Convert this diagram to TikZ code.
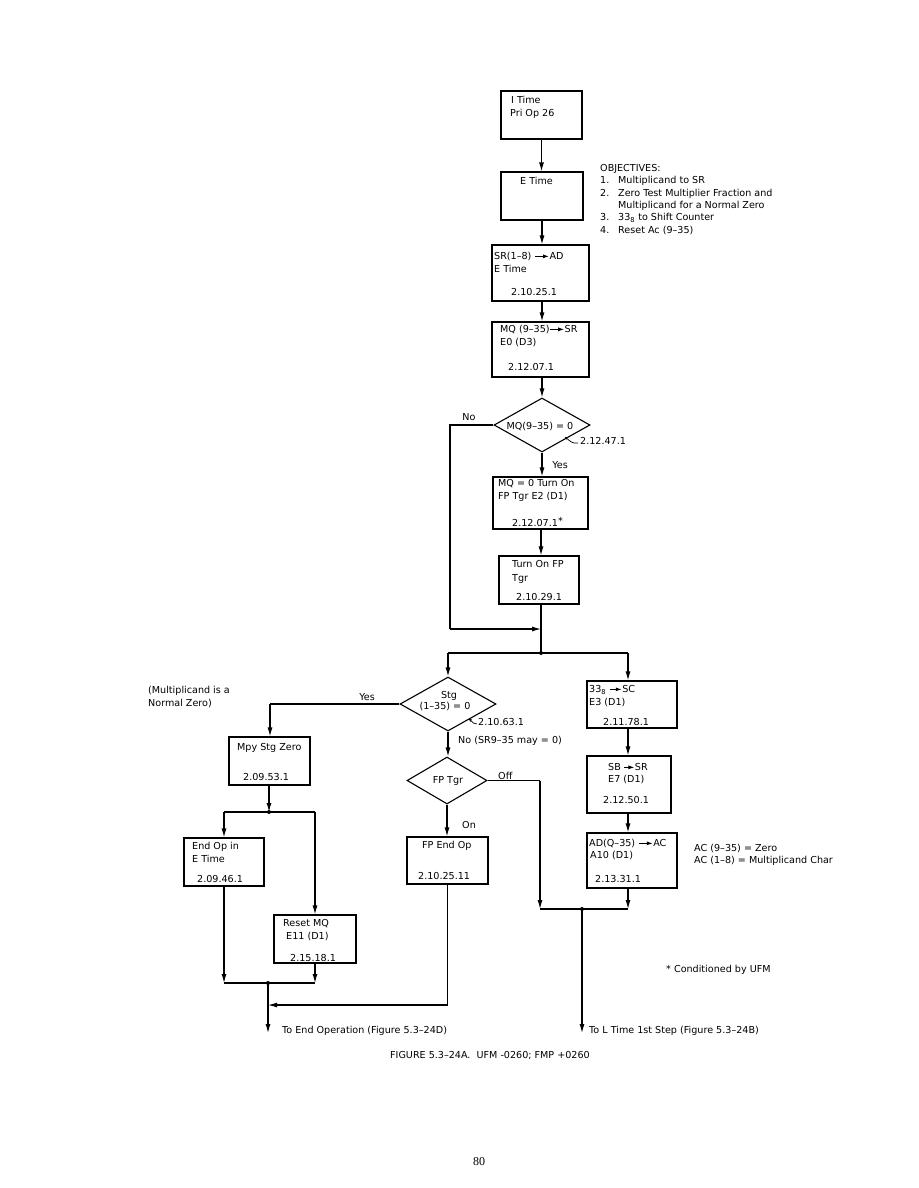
\documentclass[tikz,border=0pt]{standalone}
\usepackage{fontspec}
\setmainfont{DejaVu Sans}
\newfontfamily\pagefont{Liberation Serif}
\usetikzlibrary{shapes.geometric,arrows.meta}
\newcommand\rarr[1][14]{\tikz[x=1pt,y=1pt,baseline=-0.6ex]\draw[line width=1pt,-{Latex[length=6pt,width=4pt]}] (0,0)--(#1,0);}
\newcommand\tx[4]{\node[txt,anchor=base west] (#1) at (#2,#3+3.5) {#4};}
\newcommand\tc[4]{\node[txt,anchor=base] (#1) at (#2,#3+3.5) {#4};}
\begin{document}
\begin{tikzpicture}[x=1pt,y=-1pt,
 box/.style={draw,line width=1.1pt,rectangle,inner sep=0pt},
 dia/.style={draw,line width=1.1pt,diamond,inner sep=0pt},
 txt/.style={inner sep=0pt,font=\fontsize{9.6}{12}\selectfont},
 ln/.style={line width=1.1pt},
 arr/.style={line width=1.1pt,-{Latex[length=9pt,width=5pt]}},
 curl/.style={line width=0.7pt,-{Stealth[length=3pt,width=3pt]}},
 dot/.style={circle,fill,inner sep=0pt,minimum size=4pt}]
\useasboundingbox[fill=white] (0,0) rectangle (918,1188);
% boxes
\node[box,minimum width=81pt,minimum height=48pt] (b1) at (541.5,115) {};
\node[box,minimum width=82pt,minimum height=48pt] (b2) at (542,196) {};
\node[box,minimum width=97pt,minimum height=56pt] (b3) at (540.5,273) {};
\node[box,minimum width=97pt,minimum height=55pt] (b4) at (540.5,349.5) {};
\node[dia,minimum width=96pt,minimum height=54pt] (d1) at (542,425) {};
\node[box,minimum width=95pt,minimum height=52pt] (b5) at (540.5,503) {};
\node[box,minimum width=80pt,minimum height=48pt] (b6) at (539,580) {};
\node[dia,minimum width=96pt,minimum height=54pt] (d2) at (448,704) {};
\node[box,minimum width=81pt,minimum height=48pt] (mpy) at (269.5,761) {};
\node[dia,minimum width=80pt,minimum height=47pt] (d3) at (447,780.5) {};
\node[box,minimum width=81pt,minimum height=47pt] (fpe) at (447.5,860.5) {};
\node[box,minimum width=80pt,minimum height=48pt] (eop) at (224,862) {};
\node[box,minimum width=82pt,minimum height=48pt] (rmq) at (315,939) {};
\node[box,minimum width=90pt,minimum height=47pt] (b33) at (632,704.5) {};
\node[box,minimum width=84pt,minimum height=57pt] (bsb) at (629,784.5) {};
\node[box,minimum width=90pt,minimum height=55pt] (bad) at (632,860.5) {};
% coordinates
\coordinate (m1) at (541,629);
\coordinate (jA) at (541,653);
\coordinate (cL) at (448,653);
\coordinate (cR) at (628,653);
\coordinate (nw) at (450,425);
\coordinate (nb) at (450,629);
\coordinate (yl) at (270,704);
\coordinate (off) at (540,780.5);
\coordinate (jL) at (540,909);
\coordinate (jRR) at (628,909);
\coordinate (jR) at (582,909);
\coordinate (eR) at (582,1033);
\coordinate (jM) at (269,812);
\coordinate (mL) at (224,812);
\coordinate (mR) at (315,812);
\coordinate (jBL) at (224,983);
\coordinate (jBR) at (315,983);
\coordinate (jB) at (268,983);
\coordinate (eL) at (268,1033);
\coordinate (fq) at (447.5,1005);
\coordinate (fL) at (268,1005);
% connectors
\draw[arr] (b1.south) -- (b1.south |- b2.north);
\draw[arr] (b2.south) -- (b2.south |- b3.north);
\draw[arr] (b2.south |- b3.south) -- (b2.south |- b4.north);
\draw[arr] (d1.north |- b4.south) -- (d1.north);
\draw[arr] (d1.south) -- (d1.south |- b5.north);
\draw[arr] (m1 |- b5.south) -- (m1 |- b6.north);
\draw[ln] (m1 |- b6.south) -- (jA);
\draw[ln] (d1.west) -- (nw) -- (nb);
\draw[arr] (nb) -- (m1);
\draw[ln] (cL) -- (cR);
\draw[arr] (cL) -- (d2.north);
\draw[arr] (cR) -- (cR |- b33.north);
\draw[arr] (cR |- b33.south) -- (cR |- bsb.north);
\draw[arr] (cR |- bsb.south) -- (cR |- bad.north);
\draw[arr] (cR |- bad.south) -- (jRR);
\draw[ln] (d3.east) -- (off);
\draw[arr] (off) -- (jL);
\draw[ln] (jL) -- (jRR);
\draw[arr] (jR) -- (eR);
\draw[ln] (d2.west) -- (yl);
\draw[arr] (yl) -- (yl |- mpy.north);
\draw[arr] (d2.south) -- (d2.south |- d3.north);
\draw[arr] (d3.south) -- (d3.south |- fpe.north);
\draw[arr] (jM |- mpy.south) -- (jM);
\draw[ln] (mL) -- (mR);
\draw[arr] (mL) -- (mL |- eop.north);
\draw[arr] (mR) -- (mR |- rmq.north);
\draw[arr] (jBL |- eop.south) -- (jBL);
\draw[arr] (jBR |- rmq.south) -- (jBR);
\draw[ln] (jBL) -- (jBR);
\draw[arr] (jB) -- (eL);
\draw[ln] (fpe.south) -- (fq);
\draw[arr] (fq) -- (fL);
\node[dot] (dA) at (jA) {};
\node[dot] (dR) at (jR) {};
\node[dot] (dM) at (jM) {};
\node[dot] (dB) at (jB) {};
% texts
\tx{t1a}{511}{100}{I Time}
\tx{t1b}{510}{113}{Pri Op 26}
\tx{t2}{520}{181}{E Time}
\tx{t3a}{494}{256}{SR(1–8) \rarr[14]AD}
\tx{t3b}{494}{269}{E Time}
\tx{t3c}{511}{292}{2.10.25.1}
\tx{t4a}{500}{329}{MQ (9–35)\rarr[14]SR}
\tx{t4b}{500}{342}{E0 (D3)}
\tx{t4c}{508}{367}{2.12.07.1}
\tx{o0}{600}{168}{OBJECTIVES:}
\tx{o1n}{600}{180}{1.}
\tx{o1}{618}{180}{Multiplicand to SR}
\tx{o2n}{600}{193}{2.}
\tx{o2}{618}{193}{Zero Test Multiplier Fraction and}
\tx{o2b}{618}{205}{Multiplicand for a Normal Zero}
\tx{o3n}{600}{217}{3.}
\tx{o3}{618}{217}{33\textsubscript{8} to Shift Counter}
\tx{o4n}{600}{230}{4.}
\tx{o4}{618}{230}{Reset Ac (9–35)}
\tx{t5a}{498}{483}{MQ = 0 Turn On}
\tx{t5b}{498}{496}{FP Tgr E2 (D1)}
\tx{t5c}{512}{523}{2.12.07.1\raisebox{2pt}{*}}
\tx{t6a}{512}{564}{Turn On FP}
\tx{t6b}{512}{578}{Tgr}
\tx{t6c}{516}{597}{2.10.29.1}
\tc{d1t}{540}{426}{MQ(9–35) = 0}
\tx{d1n}{580}{441}{2.12.47.1}
\draw[curl] ([shift={(-2,2)}]d1n.west) .. controls ([shift={(-8,3)}]d1n.west) and ([shift={(-10,0)}]d1n.west) .. ([shift={(-15,-4)}]d1n.west);
\tc{no1}{469}{417}{No}
\tc{yes1}{560}{465}{Yes}
\tc{d2a}{449}{695}{Stg}
\tc{d2b}{445}{706}{(1–35) = 0}
\tx{d2n}{478}{722}{2.10.63.1}
\draw[curl] ([shift={(-1,2)}]d2n.west) .. controls ([shift={(-4,3)}]d2n.west) and ([shift={(-5,0)}]d2n.west) .. ([shift={(-9,-3)}]d2n.west);
\tx{d2no}{458}{740}{No (SR9–35 may = 0)}
\tc{yes2}{367}{697}{Yes}
\tx{mz1}{148}{690}{(Multiplicand is a}
\tx{mz2}{148}{703}{Normal Zero)}
\tx{mp1}{237}{747}{Mpy Stg Zero}
\tx{mp2}{243}{777}{2.09.53.1}
\tc{d3t}{448}{780}{FP Tgr}
\tx{offt}{498}{776}{Off}
\tx{ont}{462}{825}{On}
\tx{r1a}{589}{689}{33\textsubscript{8} \rarr[12]SC}
\tx{r1b}{589}{702}{E3 (D1)}
\tx{r1c}{603}{722}{2.11.78.1}
\tx{r2a}{608}{767}{SB \rarr[10]SR}
\tx{r2b}{608}{779}{E7 (D1)}
\tx{r2c}{603}{800}{2.12.50.1}
\tx{r3a}{589}{843}{AD(Q–35) \rarr[14]AC}
\tx{r3b}{590}{855}{A10 (D1)}
\tx{r3c}{595}{879}{2.13.31.1}
\tx{ac1}{694}{848}{AC (9–35) = Zero}
\tx{ac2}{694}{860}{AC (1–8) = Multiplicand Char}
\tx{e1}{192}{846}{End Op in}
\tx{e2}{192}{859}{E Time}
\tx{e3}{197}{879}{2.09.46.1}
\tx{rm1}{283}{923}{Reset MQ}
\tx{rm2}{286}{936}{E11 (D1)}
\tx{rm3}{290}{958}{2.15.18.1}
\tx{f1}{422}{845}{FP End Op}
\tx{f2}{418}{876}{2.10.25.11}
\tx{cond}{666}{969}{* Conditioned by UFM}
\tx{toE}{282}{1030}{To End Operation (Figure 5.3–24D)}
\tx{toL}{589}{1030}{To L Time 1st Step (Figure 5.3–24B)}
\tx{cap}{390}{1055}{FIGURE 5.3–24A.\ \ UFM -0260; FMP +0260}
\node[inner sep=0pt,font=\pagefont\fontsize{12}{14}\selectfont] (pg) at (479,1162) {80};
\end{tikzpicture}
\end{document}
